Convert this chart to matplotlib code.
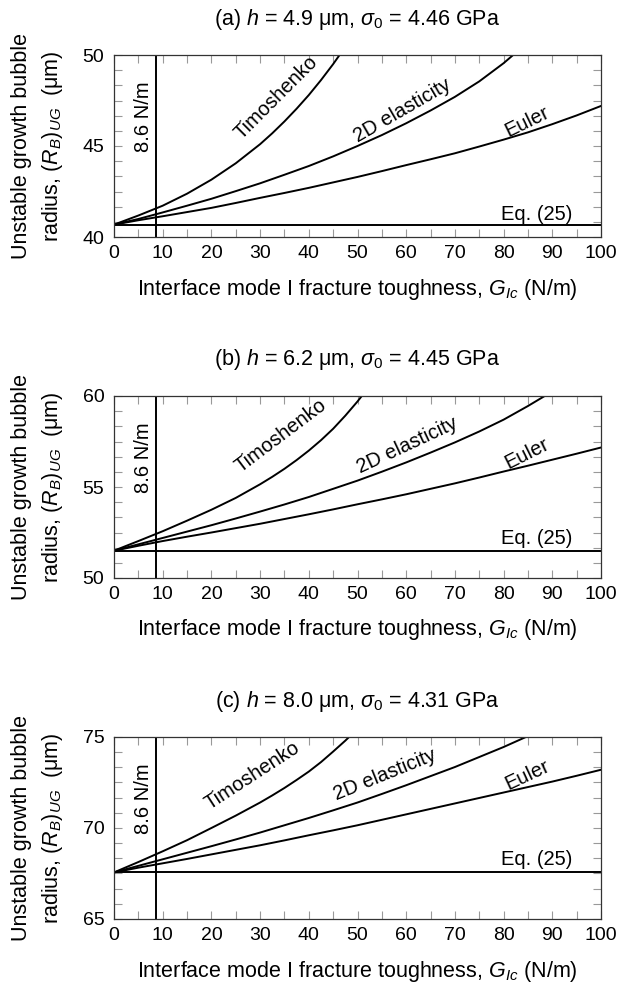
import matplotlib
matplotlib.use("Agg")
import matplotlib.pyplot as plt
from matplotlib.ticker import MultipleLocator
import numpy as np

plt.rcParams['font.family'] = ['Liberation Sans', 'DejaVu Sans']
plt.rcParams['mathtext.fontset'] = 'custom'
plt.rcParams['mathtext.rm'] = 'Liberation Sans'
plt.rcParams['mathtext.it'] = 'Liberation Sans:italic'
plt.rcParams['font.size'] = 14

# fracture toughness grid (N/m)
G = [0, 5, 10, 15, 20, 25, 30, 35, 40, 45, 50, 55, 60, 65, 70, 75, 80, 85, 90, 95, 100]
# Timoshenko curves bend hard near the top, so they were read more densely
G_timo = [0, 5, 10, 15, 20, 25, 30, 32.5, 35, 37.5, 40, 42.5, 45, 47.5, 50, 52.5]
G_line = 8.6

titles = [r"(a) $h$ = 4.9 μm, $\sigma_0$ = 4.46 GPa",
          r"(b) $h$ = 6.2 μm, $\sigma_0$ = 4.45 GPa",
          r"(c) $h$ = 8.0 μm, $\sigma_0$ = 4.31 GPa"]
ylims = [(40, 50), (50, 60), (65, 75)]

# panel (a)
timo_a = [40.68, 41.18, 41.72, 42.38, 43.15, 44.05, 45.1, 45.7, 46.35, 47.05, 47.8,
          48.62, 49.5, 50.45, 51.5, 52.6]
elast_a = [40.68, 40.99, 41.35, 41.72, 42.1, 42.52, 42.95, 43.42, 43.9, 44.43, 45.0,
           45.6, 46.25, 46.95, 47.7, 48.55, 49.55, 50.7]
euler_a = [40.68, 40.92, 41.14, 41.37, 41.6, 41.87, 42.15, 42.42, 42.7, 43.0, 43.3,
           43.62, 43.95, 44.27, 44.6, 44.97, 45.35, 45.75, 46.2, 46.68, 47.2]
eq25_a = 40.68

# panel (b)
timo_b = [51.5, 52.03, 52.57, 53.15, 53.75, 54.4, 55.15, 55.56, 56.0, 56.48, 57.0,
          57.57, 58.2, 58.92, 59.7, 60.55]
elast_b = [51.5, 51.85, 52.2, 52.55, 52.9, 53.27, 53.65, 54.04, 54.45, 54.9, 55.35,
           55.84, 56.35, 56.89, 57.45, 58.05, 58.7, 59.45, 60.25]
euler_b = [51.5, 51.77, 52.03, 52.27, 52.5, 52.74, 52.98, 53.24, 53.5, 53.77, 54.05,
           54.32, 54.6, 54.9, 55.2, 55.52, 55.85, 56.17, 56.5, 56.83, 57.17]
eq25_b = 51.5

# panel (c)
timo_c = [67.56, 68.13, 68.72, 69.33, 70.0, 70.68, 71.4, 71.79, 72.2, 72.64, 73.1,
          73.62, 74.2, 74.8, 75.45, 76.1]
elast_c = [67.56, 67.92, 68.28, 68.64, 69.0, 69.37, 69.75, 70.15, 70.55, 70.97, 71.4,
           71.87, 72.35, 72.85, 73.35, 73.9, 74.45, 75.05, 75.7]
euler_c = [67.56, 67.82, 68.06, 68.3, 68.55, 68.8, 69.05, 69.32, 69.6, 69.87, 70.15,
           70.45, 70.75, 71.05, 71.35, 71.65, 71.95, 72.25, 72.55, 72.87, 73.2]
eq25_c = 67.56

curves = [(timo_a, elast_a, euler_a, eq25_a),
          (timo_b, elast_b, euler_b, eq25_b),
          (timo_c, elast_c, euler_c, eq25_c)]

# label placement: (x, y, rotation) for Timoshenko, 2D elasticity, Euler, Eq. (25)
label_pos = [[(33.4, 47.65, 45), (59.2, 46.95, 30), (84.9, 46.35, 26), (86.8, 41.25, 0)],
             [(34.2, 57.8, 37), (60.2, 57.3, 25), (84.8, 56.85, 26.6), (86.8, 52.17, 0)],
             [(28.3, 72.9, 33), (55.6, 72.95, 22), (84.8, 72.9, 25), (86.8, 68.27, 0)]]
label_txt = ["Timoshenko", "2D elasticity", "Euler", "Eq. (25)"]

W, H = 619, 990
fig = plt.figure(figsize=(W / 100, H / 100), dpi=100)

tops = [55, 396, 737]
ax_h = 182
for i in range(3):
    top = tops[i]
    ax = fig.add_axes([114 / W, 1 - (top + ax_h) / H, 487 / W, ax_h / H])
    timo, elast, euler, eq25 = curves[i]
    lw = 1.4
    ax.plot(G_timo[:len(timo)], timo, color='black', lw=lw)
    ax.plot(G[:len(elast)], elast, color='black', lw=lw)
    ax.plot(G[:len(euler)], euler, color='black', lw=lw)
    ax.axhline(eq25, color='black', lw=lw)
    ax.axvline(G_line, color='black', lw=lw)

    lo, hi = ylims[i]
    ax.set_xlim(0, 100)
    ax.set_ylim(lo, hi)
    ax.xaxis.set_major_locator(MultipleLocator(10))
    ax.xaxis.set_minor_locator(MultipleLocator(5))
    ax.yaxis.set_major_locator(MultipleLocator(5))
    ax.yaxis.set_minor_locator(MultipleLocator(5 / 6))
    ax.tick_params(which='both', direction='in', top=True, right=True,
                   length=6, width=0.8, color='#999999')
    ax.tick_params(axis='x', which='major', pad=6)
    ax.tick_params(axis='y', which='major', pad=7)
    for sp in ax.spines.values():
        sp.set_color('#333333')
        sp.set_linewidth(0.9)

    for (x, y, rot), t in zip(label_pos[i], label_txt):
        ax.text(x, y, t, rotation=rot, rotation_mode='anchor',
                ha='center', va='center', fontsize=14.5)
    ax.text(6.0, lo + 0.66 * (hi - lo), "8.6 N/m", rotation=90,
            ha='center', va='center', fontsize=14.5)

    ax.text(0.5, 1 + 36 / ax_h, titles[i], transform=ax.transAxes,
            ha='center', va='center', fontsize=15.5)
    ax.set_xlabel(r"Interface mode I fracture toughness, $G_{Ic}$ (N/m)",
                  va='center', fontsize=15.5)
    ax.xaxis.set_label_coords(0.5, -52 / ax_h)
    ax.set_ylabel("Unstable growth bubble\nradius, $(R_B)_{UG}$  (μm)",
                  va='center', ha='center', linespacing=1.4, fontsize=15.5)
    ax.yaxis.set_label_coords(-76 / 487, 0.5)

fig.savefig("out.png", dpi=100)
